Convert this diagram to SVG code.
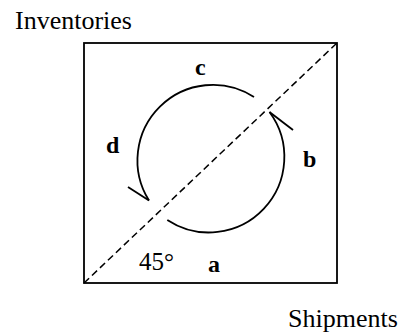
<svg xmlns="http://www.w3.org/2000/svg" width="401" height="332" viewBox="0 0 401 332">
<style>
.t{font-family:"Liberation Serif","Times New Roman",serif;fill:#000}
.l{font-size:24px;font-weight:bold}
.ln{fill:none;stroke:#000;stroke-width:1.8}
</style>
<rect width="401" height="332" fill="#fff"/>
<g id="frame">
<rect x="84" y="43" width="253" height="240" class="ln"/>
</g>
<g id="connectors">
<line x1="84" y1="283" x2="337" y2="43" stroke="#000" stroke-width="1.5" stroke-dasharray="7,4"/>
<path id="arc-cd" class="ln" d="M254,97 A75.5,75.5 0 0 0 149,200.5"/>
<line class="ln" x1="149" y1="200.5" x2="128" y2="187"/>
<path id="arc-ab" class="ln" d="M167.3,220 A75.5,75.5 0 0 0 269.5,112"/>
<line class="ln" x1="269.5" y1="112" x2="293" y2="130"/>
</g>
<g id="labels">
<text class="t" x="15" y="29" font-size="26">Inventories</text>
<text class="t" x="288" y="327" font-size="26">Shipments</text>
<text class="t" x="139" y="270" font-size="25">45°</text>
<text class="t l" x="195" y="75">c</text>
<text class="t l" x="106" y="153">d</text>
<text class="t l" x="303" y="166.5">b</text>
<text class="t l" x="208" y="271.5">a</text>
</g>
</svg>
